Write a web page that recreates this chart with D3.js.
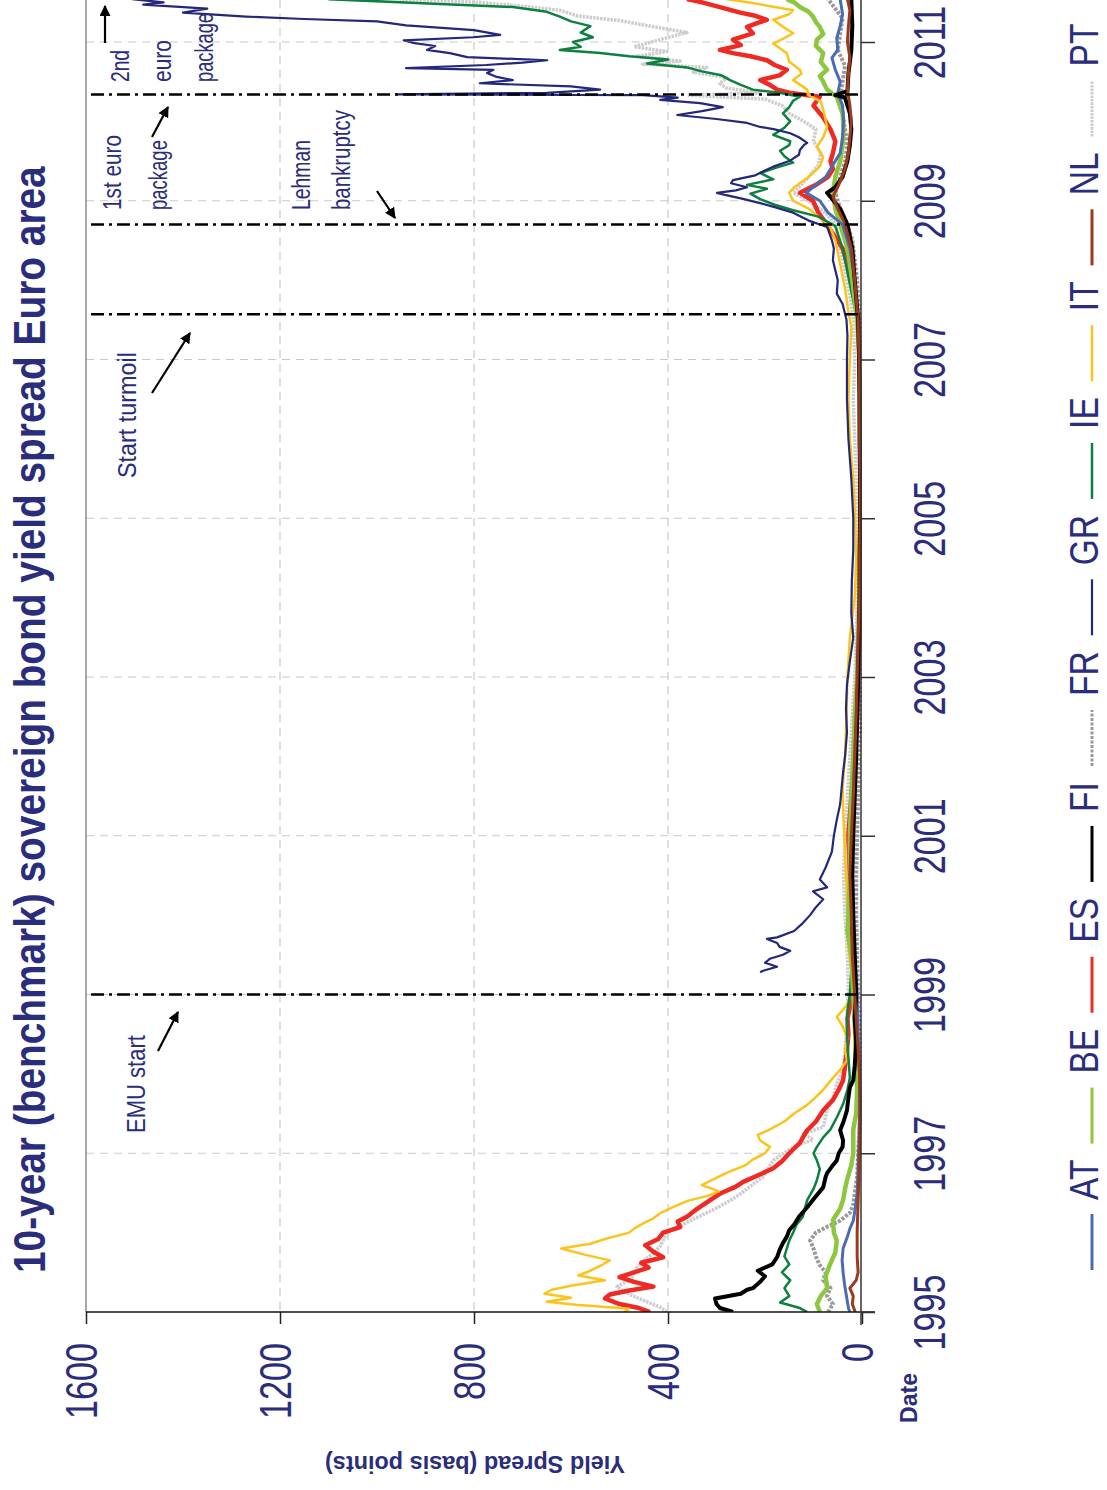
<!DOCTYPE html>
<html>
<head>
<meta charset="utf-8">
<script src="https://cdn.jsdelivr.net/npm/d3@7"></script>
<style>
  body { margin: 0; background: #fff; }
  svg { display: block; font-family: "Liberation Sans", Arial, sans-serif; }
</style>
</head>
<body>
<div id="chart"></div>
<script>
//
// 10-year sovereign bond yield spreads, euro area (chart is drawn rotated)
//

// categories and ticks
var countries = ["AT", "BE", "ES", "FI", "FR", "GR", "IE", "IT", "NL", "PT"];
var yearTicks = [1995, 1997, 1999, 2001, 2003, 2005, 2007, 2009, 2011];
var spreadTicks = [0, 400, 800, 1200, 1600];
var eventYears = [1999.0, 2007.57, 2008.70, 2010.34];

// series: [decimal year, spread in basis points]
var AT = [[1995.0,25],[1995.05,28],[1995.2,32],[1995.35,36],[1995.5,39],[1995.65,41],[1995.8,39],[1995.95,30],[1996.05,25],[1996.15,18],[1996.3,14],[1996.5,10],[1996.8,8],[1997.2,6],[1997.6,5],[1998.0,5],[1998.5,8],[1999.0,10],[1999.5,15],[2000.0,20],[2000.5,22],[2001.0,20],[2001.5,18],[2002.0,15],[2002.5,12],[2003.0,8],[2003.5,6],[2004.0,5],[2004.5,4],[2005.0,4],[2005.5,4],[2006.0,5],[2006.5,5],[2007.0,6],[2007.5,8],[2008.0,15],[2008.4,25],[2008.7,40],[2008.85,70],[2009.0,87],[2009.1,115],[2009.2,95],[2009.3,75],[2009.45,60],[2009.6,45],[2009.8,40],[2010.0,38],[2010.2,40],[2010.35,50],[2010.5,45],[2010.65,55],[2010.8,62],[2010.9,50],[2011.05,52],[2011.2,45],[2011.35,40],[2011.54,45]];

var BE = [[1995.0,87],[1995.1,93],[1995.2,85],[1995.3,72],[1995.45,75],[1995.6,66],[1995.75,55],[1995.9,52],[1996.0,58],[1996.16,60],[1996.3,45],[1996.41,39],[1996.55,35],[1996.66,31],[1996.85,22],[1997.0,18],[1997.3,18],[1997.5,12],[1997.8,10],[1998.2,12],[1998.6,15],[1999.0,18],[1999.5,22],[1999.8,30],[2000.0,28],[2000.5,25],[2001.0,25],[2001.5,22],[2002.0,18],[2002.5,15],[2003.0,10],[2003.5,8],[2004.0,5],[2004.5,4],[2005.0,3],[2005.5,3],[2006.0,4],[2006.5,5],[2007.0,5],[2007.5,10],[2008.0,20],[2008.4,30],[2008.7,45],[2008.9,55],[2009.1,60],[2009.3,55],[2009.5,45],[2009.7,40],[2009.9,38],[2010.1,40],[2010.31,52],[2010.4,72],[2010.5,80],[2010.57,87],[2010.65,72],[2010.75,85],[2010.86,80],[2010.95,95],[2011.03,93],[2011.1,80],[2011.19,87],[2011.25,95],[2011.32,101],[2011.38,110],[2011.44,128],[2011.5,140],[2011.54,155]];

var ES = [[1995.0,437],[1995.05,460],[1995.1,500],[1995.17,530],[1995.22,520],[1995.27,480],[1995.32,430],[1995.38,470],[1995.44,500],[1995.5,470],[1995.56,440],[1995.62,455],[1995.69,410],[1995.76,430],[1995.84,447],[1995.92,420],[1996.0,410],[1996.07,375],[1996.14,380],[1996.2,361],[1996.3,340],[1996.41,313],[1996.5,290],[1996.58,260],[1996.64,245],[1996.72,215],[1996.81,183],[1996.9,165],[1997.0,150],[1997.13,128],[1997.22,120],[1997.29,113],[1997.4,95],[1997.54,80],[1997.67,60],[1997.8,48],[1997.92,39],[1998.1,35],[1998.3,31],[1998.5,28],[1998.7,30],[1998.84,25],[1999.0,20],[1999.5,18],[2000.0,22],[2000.5,25],[2001.0,28],[2001.5,22],[2002.0,15],[2002.5,10],[2003.0,8],[2003.5,5],[2004.0,4],[2004.5,2],[2005.0,2],[2005.5,3],[2006.0,3],[2006.5,4],[2007.0,5],[2007.5,8],[2007.8,15],[2008.1,25],[2008.4,40],[2008.68,70],[2008.85,90],[2009.0,101],[2009.1,128],[2009.2,95],[2009.3,70],[2009.4,60],[2009.5,65],[2009.6,60],[2009.75,55],[2009.9,65],[2010.05,80],[2010.2,100],[2010.31,87],[2010.36,150],[2010.4,175],[2010.46,190],[2010.52,210],[2010.58,170],[2010.65,155],[2010.71,180],[2010.77,196],[2010.82,230],[2010.86,266],[2010.9,293],[2010.96,250],[2011.03,266],[2011.08,240],[2011.11,225],[2011.19,237],[2011.24,215],[2011.28,196],[2011.33,220],[2011.37,251],[2011.44,293],[2011.5,330],[2011.54,361]];

var FI = [[1995.0,266],[1995.05,293],[1995.1,300],[1995.17,303],[1995.23,250],[1995.28,237],[1995.3,225],[1995.38,210],[1995.45,200],[1995.52,215],[1995.6,185],[1995.69,175],[1995.78,170],[1995.87,163],[1995.95,155],[1996.03,150],[1996.1,140],[1996.2,130],[1996.32,113],[1996.42,100],[1996.57,80],[1996.7,75],[1996.75,72],[1996.85,60],[1996.91,52],[1997.0,48],[1997.08,40],[1997.16,39],[1997.29,45],[1997.4,38],[1997.54,31],[1997.7,28],[1997.83,25],[1997.92,18],[1998.1,15],[1998.4,12],[1998.7,15],[1999.0,12],[1999.5,15],[2000.0,18],[2000.5,20],[2001.0,18],[2001.5,15],[2002.0,12],[2002.5,10],[2003.0,8],[2003.5,6],[2004.0,5],[2004.5,5],[2005.0,4],[2005.5,4],[2006.0,5],[2006.5,5],[2007.0,6],[2007.5,8],[2008.0,15],[2008.4,20],[2008.7,30],[2008.9,45],[2009.1,72],[2009.17,55],[2009.3,40],[2009.5,30],[2009.7,25],[2009.9,22],[2010.1,25],[2010.3,35],[2010.33,55],[2010.38,30],[2010.6,28],[2010.9,22],[2011.2,20],[2011.54,22]];

var FR = [[1995.0,70],[1995.1,60],[1995.2,72],[1995.3,65],[1995.4,80],[1995.5,75],[1995.6,88],[1995.7,95],[1995.8,100],[1995.9,107],[1996.0,95],[1996.08,70],[1996.15,45],[1996.25,25],[1996.35,18],[1996.5,15],[1996.7,10],[1997.0,8],[1997.3,5],[1997.6,3],[1998.0,2],[1998.5,5],[1999.0,8],[1999.5,10],[2000.0,12],[2000.5,12],[2001.0,10],[2001.5,8],[2002.0,6],[2002.5,4],[2003.0,3],[2003.5,2],[2004.0,2],[2004.5,2],[2005.0,2],[2005.5,2],[2006.0,3],[2006.5,3],[2007.0,4],[2007.5,5],[2008.0,10],[2008.5,20],[2008.7,30],[2008.9,45],[2009.1,55],[2009.3,45],[2009.5,35],[2009.7,30],[2009.9,35],[2010.1,40],[2010.3,45],[2010.5,40],[2010.7,35],[2010.9,50],[2011.1,45],[2011.3,40],[2011.54,70]];

var GR = [[1999.28,210],[1999.3,204],[1999.35,175],[1999.4,200],[1999.45,190],[1999.5,163],[1999.55,148],[1999.6,170],[1999.65,175],[1999.7,196],[1999.72,175],[1999.8,140],[1999.9,122],[2000.0,107],[2000.1,95],[2000.2,80],[2000.3,101],[2000.35,72],[2000.45,87],[2000.6,75],[2000.8,62],[2001.0,58],[2001.2,52],[2001.4,45],[2001.6,42],[2001.8,39],[2002.0,35],[2002.3,31],[2002.6,33],[2002.9,31],[2003.2,25],[2003.5,18],[2003.8,22],[2004.2,21],[2004.6,18],[2005.0,18],[2005.5,22],[2006.0,28],[2006.5,31],[2007.0,31],[2007.3,30],[2007.5,32],[2007.7,40],[2007.83,52],[2008.0,50],[2008.25,60],[2008.4,58],[2008.5,62],[2008.67,72],[2008.75,110],[2008.85,142],[2008.92,180],[2008.97,210],[2009.03,250],[2009.07,280],[2009.1,299],[2009.13,260],[2009.17,237],[2009.22,270],[2009.26,266],[2009.32,220],[2009.38,200],[2009.43,183],[2009.5,150],[2009.58,130],[2009.64,128],[2009.7,120],[2009.73,113],[2009.8,130],[2009.85,148],[2009.9,180],[2009.93,210],[2009.98,237],[2010.03,300],[2010.08,381],[2010.13,330],[2010.18,287],[2010.23,334],[2010.27,416],[2010.3,380],[2010.33,452],[2010.34,960],[2010.36,650],[2010.4,540],[2010.44,600],[2010.48,788],[2010.52,720],[2010.56,753],[2010.61,773],[2010.65,760],[2010.67,940],[2010.71,775],[2010.74,700],[2010.77,649],[2010.81,814],[2010.86,850],[2010.9,897],[2010.95,880],[2010.99,926],[2011.02,945],[2011.06,802],[2011.09,746],[2011.15,800],[2011.21,940],[2011.26,1000],[2011.29,1150],[2011.32,1270],[2011.37,1400],[2011.42,1350],[2011.47,1482],[2011.5,1440],[2011.54,1505]];

var IE = [[1995.0,113],[1995.05,128],[1995.12,169],[1995.2,150],[1995.3,160],[1995.4,148],[1995.5,165],[1995.6,150],[1995.7,160],[1995.8,155],[1995.9,150],[1996.0,142],[1996.1,135],[1996.2,122],[1996.3,118],[1996.41,113],[1996.55,100],[1996.66,93],[1996.8,87],[1996.91,93],[1997.0,100],[1997.08,93],[1997.2,80],[1997.3,65],[1997.45,52],[1997.62,39],[1997.8,30],[1997.95,25],[1998.2,28],[1998.5,31],[1998.8,30],[1999.0,25],[1999.5,20],[2000.0,25],[2000.5,22],[2001.0,20],[2001.5,18],[2002.0,15],[2002.5,12],[2003.0,8],[2003.5,5],[2004.0,3],[2004.5,2],[2005.0,2],[2005.5,2],[2006.0,3],[2006.5,3],[2007.0,5],[2007.5,10],[2007.8,20],[2008.1,30],[2008.4,40],[2008.68,55],[2008.8,90],[2008.88,142],[2008.95,180],[2009.02,210],[2009.09,230],[2009.15,196],[2009.2,237],[2009.27,183],[2009.35,210],[2009.42,175],[2009.48,142],[2009.56,160],[2009.63,169],[2009.7,150],[2009.75,148],[2009.83,183],[2009.92,160],[2010.0,148],[2010.1,163],[2010.18,150],[2010.26,142],[2010.31,128],[2010.36,170],[2010.4,225],[2010.46,250],[2010.52,272],[2010.58,290],[2010.63,330],[2010.68,361],[2010.73,443],[2010.78,400],[2010.82,480],[2010.86,540],[2010.9,623],[2010.94,580],[2011.0,596],[2011.06,555],[2011.12,580],[2011.2,560],[2011.26,600],[2011.32,623],[2011.38,650],[2011.44,720],[2011.48,870],[2011.54,1100]];

var IT = [[1995.0,490],[1995.04,480],[1995.09,590],[1995.13,650],[1995.18,600],[1995.23,655],[1995.28,640],[1995.33,600],[1995.4,530],[1995.46,585],[1995.52,560],[1995.58,540],[1995.65,520],[1995.72,570],[1995.8,620],[1995.86,560],[1995.92,530],[1996.0,480],[1996.05,470],[1996.12,450],[1996.18,430],[1996.25,415],[1996.32,390],[1996.4,360],[1996.46,320],[1996.52,295],[1996.6,330],[1996.66,310],[1996.75,280],[1996.85,240],[1996.92,225],[1997.0,200],[1997.08,190],[1997.16,210],[1997.23,215],[1997.3,190],[1997.4,160],[1997.5,140],[1997.6,115],[1997.68,100],[1997.8,80],[1997.95,60],[1998.05,45],[1998.17,31],[1998.3,35],[1998.45,30],[1998.6,40],[1998.72,52],[1998.8,40],[1998.9,28],[1999.0,25],[1999.3,22],[1999.6,28],[2000.0,30],[2000.4,32],[2000.8,35],[2001.2,38],[2001.6,40],[2002.0,35],[2002.5,32],[2003.0,30],[2003.5,25],[2004.0,15],[2004.5,12],[2005.0,14],[2005.5,18],[2006.0,25],[2006.5,28],[2007.0,25],[2007.4,22],[2007.6,28],[2007.9,35],[2008.2,45],[2008.5,55],[2008.68,66],[2008.8,90],[2008.9,110],[2009.0,142],[2009.1,150],[2009.17,140],[2009.3,110],[2009.43,87],[2009.55,80],[2009.68,93],[2009.8,80],[2009.93,72],[2010.1,78],[2010.25,85],[2010.33,110],[2010.4,113],[2010.52,142],[2010.6,125],[2010.65,128],[2010.75,150],[2010.86,155],[2010.98,183],[2011.05,160],[2011.11,142],[2011.2,165],[2011.28,183],[2011.35,150],[2011.4,142],[2011.49,225],[2011.54,280]];

var NL = [[1995.0,14],[1995.1,20],[1995.2,18],[1995.3,25],[1995.4,12],[1995.5,8],[1995.7,10],[1996.0,10],[1996.4,8],[1996.8,6],[1997.2,5],[1997.6,4],[1998.0,5],[1998.5,10],[1999.0,15],[1999.5,20],[2000.0,22],[2000.5,25],[2001.0,22],[2001.5,18],[2002.0,15],[2002.5,12],[2003.0,10],[2003.5,8],[2004.0,5],[2004.5,5],[2005.0,4],[2005.5,4],[2006.0,5],[2006.5,5],[2007.0,6],[2007.5,8],[2008.0,15],[2008.4,22],[2008.7,35],[2008.9,50],[2009.05,60],[2009.2,48],[2009.4,35],[2009.6,28],[2009.8,25],[2010.0,22],[2010.2,25],[2010.4,30],[2010.6,28],[2010.8,25],[2011.0,30],[2011.2,28],[2011.4,25],[2011.54,30]];

var PT = [[1995.0,402],[1995.06,416],[1995.12,440],[1995.18,464],[1995.25,490],[1995.32,505],[1995.4,480],[1995.48,470],[1995.56,464],[1995.65,450],[1995.74,430],[1995.84,415],[1996.0,402],[1996.1,370],[1996.17,348],[1996.25,320],[1996.33,293],[1996.45,260],[1996.55,237],[1996.7,205],[1996.91,183],[1997.08,142],[1997.17,101],[1997.25,120],[1997.33,80],[1997.54,72],[1997.7,60],[1997.88,52],[1998.05,39],[1998.3,35],[1998.6,31],[1998.9,30],[1999.0,28],[1999.5,30],[2000.0,35],[2000.5,38],[2001.0,35],[2001.5,30],[2002.0,25],[2002.5,20],[2003.0,15],[2003.5,12],[2004.0,10],[2004.5,8],[2005.0,10],[2005.5,12],[2006.0,15],[2006.5,18],[2007.0,15],[2007.5,18],[2007.8,25],[2008.1,35],[2008.4,45],[2008.7,55],[2008.85,75],[2009.0,110],[2009.1,142],[2009.2,125],[2009.3,110],[2009.45,90],[2009.6,85],[2009.75,100],[2009.9,95],[2010.0,120],[2010.1,150],[2010.2,165],[2010.28,200],[2010.33,360],[2010.36,210],[2010.42,280],[2010.48,293],[2010.55,278],[2010.62,348],[2010.68,320],[2010.72,452],[2010.76,375],[2010.82,464],[2010.88,402],[2010.94,470],[2011.03,416],[2011.12,361],[2011.2,437],[2011.27,500],[2011.33,588],[2011.4,623],[2011.45,700],[2011.5,790],[2011.54,953]];

var seriesByCountry = { AT: AT, BE: BE, ES: ES, FI: FI, FR: FR, GR: GR, IE: IE, IT: IT, NL: NL, PT: PT };

// line styles per country
var navy = "#2a2d7c";
var lineStyle = {
  AT: { color: "#4a6cb3", width: 3 },
  BE: { color: "#8dc63f", width: 4.5 },
  ES: { color: "#ee2a24", width: 4.5 },
  FI: { color: "#000000", width: 4 },
  FR: { color: "#999999", width: 4, dash: "3,1.5" },
  GR: { color: "#23287a", width: 2.2 },
  IE: { color: "#0d8040", width: 2.5 },
  IT: { color: "#fbc41c", width: 2.5 },
  NL: { color: "#9b3a1c", width: 3 },
  PT: { color: "#cdcdcd", width: 3.5, dash: "2.5,1" }
};
// drawing order (last on top)
var drawOrder = ["FR", "PT", "ES", "IT", "IE", "BE", "AT", "FI", "NL", "GR"];

// canvas size and plot box
var xcanvas = 1107, ycanvas = 1490;
var left = 86, right = 862, bottom = 1312;

var svg = d3.select("#chart").append("svg")
  .attr("width", xcanvas).attr("height", ycanvas);

// spread runs right-to-left, time runs bottom-to-top
var x = d3.scaleLinear().domain([0, 1600]).range([right, left]);
var y = d3.scaleLinear().domain([1995, 2011]).range([bottom, 42]);

var defs = svg.append("defs");
defs.append("clipPath").attr("id", "plotclip")
  .append("rect").attr("x", left).attr("y", 0)
  .attr("width", right - left).attr("height", bottom);

var marker = defs.append("marker")
  .attr("id", "arrow").attr("viewBox", "0 0 10 10")
  .attr("refX", 9).attr("refY", 5)
  .attr("markerWidth", 5).attr("markerHeight", 5)
  .attr("markerUnits", "strokeWidth")
  .attr("orient", "auto");
marker.append("path").attr("d", "M0,0 L10,5 L0,10 z").attr("fill", "#000");

// grid
svg.append("g").selectAll("line").data(yearTicks.slice(1)).join("line")
  .attr("x1", left).attr("x2", right - 1)
  .attr("y1", function (d) { return y(d); }).attr("y2", function (d) { return y(d); })
  .attr("stroke", "#c9c9c9").attr("stroke-width", 1.2).attr("stroke-dasharray", "8,6");
svg.append("g").selectAll("line").data(spreadTicks.slice(1, 4)).join("line")
  .attr("x1", function (d) { return x(d); }).attr("x2", function (d) { return x(d); })
  .attr("y1", 0).attr("y2", bottom)
  .attr("stroke", "#c9c9c9").attr("stroke-width", 1.2).attr("stroke-dasharray", "8,6");

// plot border on the 1600 side
svg.append("line").attr("x1", left).attr("x2", left).attr("y1", 0).attr("y2", bottom)
  .attr("stroke", "#8c8c8c").attr("stroke-width", 1.5);

// the series
var line = d3.line()
  .x(function (d) { return x(d[1]); })
  .y(function (d) { return y(d[0]); });

svg.append("g").attr("clip-path", "url(#plotclip)")
  .selectAll("path").data(drawOrder).join("path")
  .attr("d", function (c) { return line(seriesByCountry[c]); })
  .attr("fill", "none")
  .attr("stroke", function (c) { return lineStyle[c].color; })
  .attr("stroke-width", function (c) { return lineStyle[c].width; })
  .attr("stroke-dasharray", function (c) { return lineStyle[c].dash || null; })
  .attr("stroke-linejoin", "round");

// event lines
svg.append("g").selectAll("line").data(eventYears).join("line")
  .attr("x1", 91).attr("x2", right)
  .attr("y1", function (d) { return y(d); }).attr("y2", function (d) { return y(d); })
  .attr("stroke", "#000").attr("stroke-width", 2.5)
  .attr("stroke-dasharray", "13,5,3,5");

// value axis (horizontal, bottom)
var valueAxis = svg.append("g").attr("transform", "translate(0," + bottom + ")")
  .call(d3.axisBottom(x).tickValues(spreadTicks).tickSize(12).tickFormat(d3.format("d")));
valueAxis.attr("font-family", null).attr("font-size", null);
valueAxis.select(".domain").remove();
valueAxis.selectAll(".tick line").attr("stroke", "#222").attr("stroke-width", 1.5);
valueAxis.selectAll(".tick text")
  .attr("y", null).attr("dy", null).attr("x", null)
  .attr("text-anchor", "end")
  .attr("font-size", 45).attr("fill", navy)
  .attr("transform", "translate(10,31) rotate(-90) scale(0.76,1)");
svg.append("line").attr("x1", left).attr("x2", 875).attr("y1", bottom).attr("y2", bottom)
  .attr("stroke", "#111").attr("stroke-width", 1.5);

// date axis (vertical, right)
var dateAxis = svg.append("g").attr("transform", "translate(861,0)")
  .call(d3.axisRight(y).tickValues(yearTicks).tickSize(14).tickFormat(d3.format("d")));
dateAxis.attr("font-family", null).attr("font-size", null);
dateAxis.select(".domain").remove();
dateAxis.selectAll(".tick line").attr("stroke", "#333").attr("stroke-width", 1.5);
dateAxis.selectAll(".tick text")
  .attr("x", null).attr("dy", null)
  .attr("text-anchor", "middle")
  .attr("font-size", 45).attr("fill", navy)
  .attr("transform", "translate(84,0) rotate(-90) scale(0.76,1)");
svg.append("line").attr("x1", 861).attr("x2", 861).attr("y1", 0).attr("y2", 1325)
  .attr("stroke", "#333").attr("stroke-width", 1.5);

// rotated text, squeezed along its run to a wanted length
var rotText = function (str, bx, by, opts) {
  var t = svg.append("text")
    .attr("text-anchor", opts.anchor || "start")
    .attr("font-size", opts.size)
    .attr("font-weight", opts.bold ? "bold" : null)
    .attr("fill", navy)
    .text(str);
  var sx = opts.len ? opts.len / t.node().getComputedTextLength() : 1;
  t.attr("transform", "translate(" + bx + "," + by + ") rotate(" + (opts.rot || -90) + ") scale(" + sx + ",1)");
  return t;
};

// title and axis names
rotText("10-year (benchmark) sovereign bond yield spread Euro area", 45, 1273, { size: 45, bold: true, len: 1107 });
rotText("Yield Spread (basis points)", 475, 1456, { size: 24, bold: true, len: 300, rot: 180, anchor: "middle" });
rotText("Date", 917, 1398, { size: 23, bold: true, len: 50, anchor: "middle" });

// annotations
var notes = [
  ["EMU start", 145, 1133, 98],
  ["Start turmoil", 136, 478, 126],
  ["1st euro", 121, 210, 75],
  ["package", 167, 210, 70],
  ["Lehman", 310, 210, 70],
  ["bankruptcy", 350, 210, 100],
  ["2nd", 129, 82, 32],
  ["euro", 171, 82, 42],
  ["package", 213, 82, 69]
];
notes.forEach(function (n) { rotText(n[0], n[1], n[2], { size: 26, len: n[3] }); });

var arrows = [
  [158, 1051, 178, 1012],
  [152, 393, 190, 333],
  [152, 137, 168, 107],
  [377, 191, 395, 218],
  [105, 43, 105, 6]
];
svg.append("g").selectAll("line").data(arrows).join("line")
  .attr("x1", function (d) { return d[0]; }).attr("y1", function (d) { return d[1]; })
  .attr("x2", function (d) { return d[2]; }).attr("y2", function (d) { return d[3]; })
  .attr("stroke", "#000").attr("stroke-width", 2.2)
  .attr("marker-end", "url(#arrow)");

// legend, running bottom to top
var legend = svg.append("g");
var ly = 1270;
countries.forEach(function (c) {
  var st = lineStyle[c];
  legend.append("line")
    .attr("x1", 1092).attr("x2", 1092).attr("y1", ly).attr("y2", ly - 56)
    .attr("stroke", st.color)
    .attr("stroke-width", Math.min(st.width, 3))
    .attr("stroke-dasharray", st.dash || null);
  ly -= 56 + 14;
  var t = legend.append("text")
    .attr("transform", "translate(1098," + ly + ") rotate(-90) scale(0.84,1)")
    .attr("font-size", 40).attr("fill", navy)
    .text(c);
  ly -= t.node().getComputedTextLength() * 0.84 + 16;
});
</script>
</body>
</html>
